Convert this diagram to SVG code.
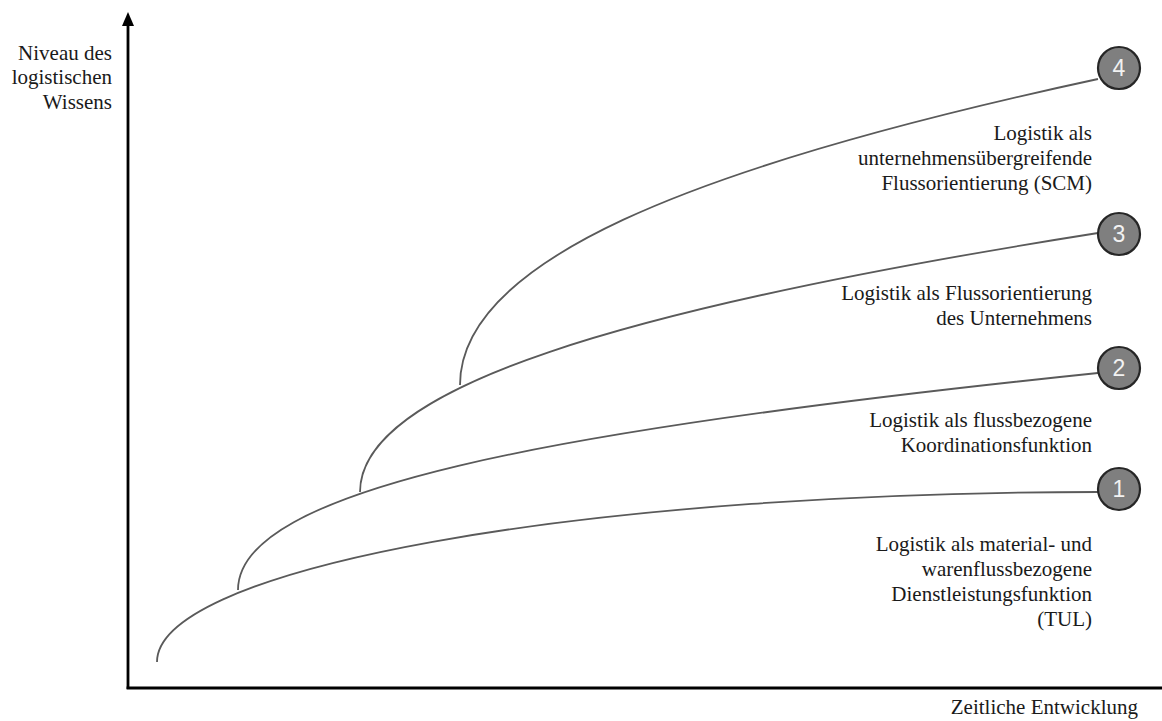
<svg xmlns="http://www.w3.org/2000/svg" width="1162" height="721" viewBox="0 0 1162 721">
<style>
.lbl{font-family:"Liberation Serif","DejaVu Serif","Noto Serif","Times New Roman",serif;font-size:21px;fill:#1a1a1a;text-anchor:end}
.curve{fill:none;stroke:#5a5a5a;stroke-width:1.8}
.axis{fill:none;stroke:#000;stroke-width:2.8}
.circ{fill:#7f7f7f;stroke:#262626;stroke-width:2.2}
.num{font-family:"Liberation Sans",Arial,sans-serif;font-size:23px;fill:#f2f2f2;text-anchor:middle}
</style>
<rect width="1162" height="721" fill="#fff"/>
<g id="axes">
<line class="axis" x1="128" y1="689" x2="128" y2="24"/>
<polygon points="128,12 122,26 134,26" fill="#000"/>
<line class="axis" x1="126.6" y1="688" x2="1162" y2="688"/>
<text class="lbl" font-family="Liberation Serif, DejaVu Serif, serif" x="112" y="60">Niveau des</text>
<text class="lbl" font-family="Liberation Serif, DejaVu Serif, serif" x="112" y="84">logistischen</text>
<text class="lbl" font-family="Liberation Serif, DejaVu Serif, serif" x="112" y="109">Wissens</text>
<text class="lbl" font-family="Liberation Serif, DejaVu Serif, serif" x="1138" y="714">Zeitliche Entwicklung</text>
</g>
<g id="connectors">
<path class="curve" d="M157,662 A941,170 0 0 1 1098,492"/>
<path class="curve" d="M238,590 C238,490.4 539,430.8 1098,373"/>
<path class="curve" d="M360,492 C360,388.4 618.3,308.8 1098,233"/>
<path class="curve" d="M460,385 C460,262.6 683.3,168.5 1098,79"/>
</g>
<g id="node1">
<circle class="circ" cx="1119" cy="489" r="21"/>
<text class="num" x="1119" y="497">1</text>
<text class="lbl" font-family="Liberation Serif, DejaVu Serif, serif" x="1092" y="551">Logistik als material- und</text>
<text class="lbl" font-family="Liberation Serif, DejaVu Serif, serif" x="1092" y="576">warenflussbezogene</text>
<text class="lbl" font-family="Liberation Serif, DejaVu Serif, serif" x="1092" y="601">Dienstleistungsfunktion</text>
<text class="lbl" font-family="Liberation Serif, DejaVu Serif, serif" x="1092" y="626">(TUL)</text>
</g>
<g id="node2">
<circle class="circ" cx="1119" cy="368" r="21"/>
<text class="num" x="1119" y="376">2</text>
<text class="lbl" font-family="Liberation Serif, DejaVu Serif, serif" x="1092" y="427">Logistik als flussbezogene</text>
<text class="lbl" font-family="Liberation Serif, DejaVu Serif, serif" x="1092" y="452">Koordinationsfunktion</text>
</g>
<g id="node3">
<circle class="circ" cx="1119" cy="234" r="21"/>
<text class="num" x="1119" y="242">3</text>
<text class="lbl" font-family="Liberation Serif, DejaVu Serif, serif" x="1092" y="300">Logistik als Flussorientierung</text>
<text class="lbl" font-family="Liberation Serif, DejaVu Serif, serif" x="1092" y="325">des Unternehmens</text>
</g>
<g id="node4">
<circle class="circ" cx="1119" cy="68" r="21"/>
<text class="num" x="1119" y="76">4</text>
<text class="lbl" font-family="Liberation Serif, DejaVu Serif, serif" x="1092" y="140">Logistik als</text>
<text class="lbl" font-family="Liberation Serif, DejaVu Serif, serif" x="1092" y="165">unternehmensübergreifende</text>
<text class="lbl" font-family="Liberation Serif, DejaVu Serif, serif" x="1092" y="190">Flussorientierung (SCM)</text>
</g>
</svg>
